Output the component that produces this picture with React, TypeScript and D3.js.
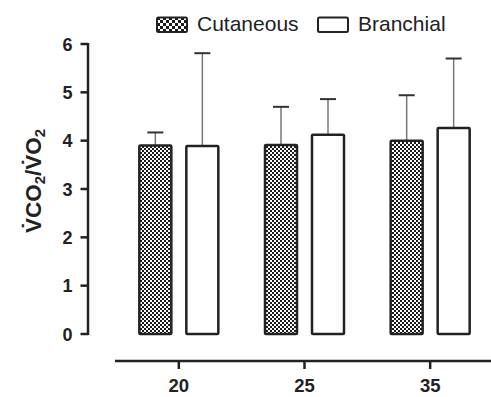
import React from "react";
import * as d3 from "d3";

const categories = ["20", "25", "35"];
const seriesNames = ["Cutaneous", "Branchial"];
const cutaneousMean = [3.9, 3.91, 4.0];
const cutaneousSD = [0.27, 0.79, 0.94];
const branchialMean = [3.89, 4.12, 4.26];
const branchialSD = [1.92, 0.74, 1.44];
const yTicks = [0, 1, 2, 3, 4, 5, 6];

const W = 491;
const H = 397;
const FONT = "'Liberation Sans', Arial, sans-serif";
const INK = "#222";

export default function App() {
  const y = d3.scaleLinear().domain([0, 6]).range([334, 44]);
  const x0 = d3.scaleBand().domain(categories).range([116, 493]).padding(0);
  const x1 = d3.scaleBand().domain(seriesNames).range([-39.5, 39.5]).paddingInner(0.319).paddingOuter(0);
  const bw = x1.bandwidth();

  const data = [
    { name: "Cutaneous", mean: cutaneousMean, sd: cutaneousSD, fill: "url(#checker)" },
    { name: "Branchial", mean: branchialMean, sd: branchialSD, fill: "#fff" },
  ];

  return (
    <svg width={W} height={H} style={{ position: "absolute", left: 0, top: 0, background: "#fff" }}>
      <defs>
        <pattern id="checker" width="4" height="4" patternUnits="userSpaceOnUse">
          <rect width="4" height="4" fill="#fff" />
          <rect x="0" y="0" width="2" height="2" fill="#1a1a1a" />
          <rect x="2" y="2" width="2" height="2" fill="#1a1a1a" />
        </pattern>
        <pattern id="checkerL" width="6" height="6" patternUnits="userSpaceOnUse" x="157" y="17">
          <rect width="6" height="6" fill="#fff" />
          <rect x="0" y="0" width="3" height="3" fill="#1a1a1a" />
          <rect x="3" y="3" width="3" height="3" fill="#1a1a1a" />
        </pattern>
      </defs>

      {/* Legend */}
      <rect x={157} y={17.5} width={30} height={14.5} rx={1.5} fill="url(#checkerL)" stroke={INK} strokeWidth={2} />
      <text x={197} y={31} fontFamily={FONT} fontSize={21} fill={INK}>Cutaneous</text>
      <rect x={318} y={17.5} width={30} height={14.5} rx={1.5} fill="#fff" stroke={INK} strokeWidth={2} />
      <text x={358} y={31} fontFamily={FONT} fontSize={21} fill={INK}>Branchial</text>

      {/* Y axis */}
      <line x1={88} x2={88} y1={y(6) - 1} y2={y(0) + 1} stroke={INK} strokeWidth={2.5} />
      {yTicks.map((t) => (
        <g key={t}>
          <line x1={80.5} x2={88} y1={y(t)} y2={y(t)} stroke={INK} strokeWidth={2.5} />
          <text x={72.5} y={y(t) + 6.5} textAnchor="end" fontFamily={FONT} fontWeight="bold" fontSize={18} fill={INK}>
            {t}
          </text>
        </g>
      ))}

      {/* Y title */}
      <text
        transform={`translate(41,181) rotate(-90)`}
        textAnchor="middle"
        fontFamily={FONT}
        fontWeight="bold"
        fontSize={22.5}
        fill={INK}
      >
        {"V\u0307CO"}
        <tspan fontSize={15} dy={4}>2</tspan>
        <tspan dy={-4}>{"/V\u0307O"}</tspan>
        <tspan fontSize={15} dy={4}>2</tspan>
      </text>

      {/* X axis */}
      <line x1={115} x2={491} y1={361} y2={361} stroke={INK} strokeWidth={2.5} />
      {categories.map((c) => {
        const cx = (x0(c) as number) + x0.bandwidth() / 2;
        return (
          <g key={c}>
            <line x1={cx} x2={cx} y1={361} y2={369} stroke={INK} strokeWidth={2.5} />
            <text x={cx} y={392} textAnchor="middle" fontFamily={FONT} fontWeight="bold" fontSize={18.5} fill={INK}>
              {c}
            </text>
          </g>
        );
      })}

      {/* Bars */}
      {categories.map((c, i) => {
        const cx = (x0(c) as number) + x0.bandwidth() / 2;
        return (
          <g key={c}>
            {data.map((s) => {
              const bx = cx + (x1(s.name) as number);
              const mid = bx + bw / 2;
              const top = y(s.mean[i]);
              const errY = y(s.mean[i] + s.sd[i]);
              return (
                <g key={s.name}>
                  <line x1={mid} x2={mid} y1={top} y2={errY} stroke="#777" strokeWidth={1.5} />
                  <line x1={mid - 8} x2={mid + 8} y1={errY} y2={errY} stroke="#333" strokeWidth={2} />
                  <rect x={bx} y={top} width={bw} height={y(0) - top} rx={1} fill={s.fill} stroke={INK} strokeWidth={2.5} />
                </g>
              );
            })}
          </g>
        );
      })}
    </svg>
  );
}
